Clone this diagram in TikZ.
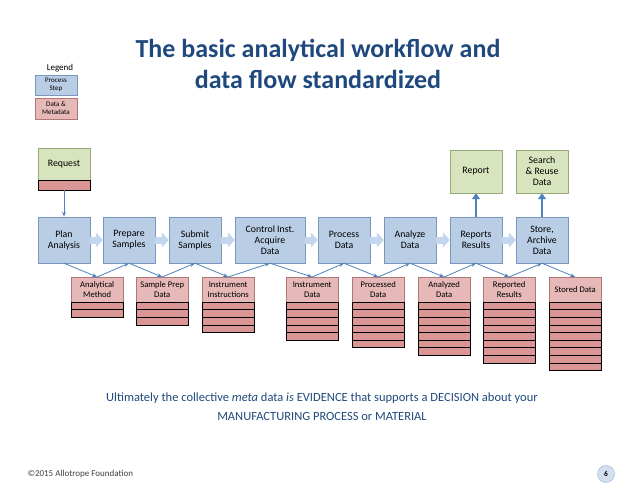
\documentclass[tikz,border=0pt]{standalone}
\usepackage{fontspec}
\setmainfont{Carlito}
\usetikzlibrary{arrows.meta,positioning}
\definecolor{procfill}{RGB}{185,205,229}
\definecolor{procline}{RGB}{120,150,190}
\definecolor{datafill}{RGB}{230,184,183}
\definecolor{rowfill}{RGB}{218,150,148}
\definecolor{reqfill}{RGB}{215,228,189}
\definecolor{reqline}{RGB}{150,170,120}
\definecolor{titleblue}{RGB}{31,73,125}
\definecolor{linkblue}{RGB}{79,129,189}
\definecolor{fatarrow}{RGB}{195,214,238}
\tikzset{
  procbox/.style={draw=procline, fill=procfill, minimum width=52pt, minimum height=46pt,
    align=center, font=\fontsize{9.8}{11}\selectfont, inner sep=1pt},
  outbox/.style={draw=reqline, fill=reqfill, minimum width=52pt, minimum height=43pt,
    align=center, font=\fontsize{9.8}{11}\selectfont, inner sep=1pt},
  datahead/.style={draw=rowfill!80!black, fill=datafill, minimum width=52pt, minimum height=25pt,
    align=center, font=\fontsize{8.6}{9.6}\selectfont, inner sep=1pt, anchor=north west},
  datarow/.style={draw=black, fill=rowfill},
  link/.style={linkblue, thick, -{Stealth[length=5pt]}},
  flow/.style={fatarrow, line width=7pt, -{Triangle[width=15pt,length=7pt]}},
  uparrow/.style={linkblue, line width=2.5pt, -{Triangle[width=8pt,length=6pt]}}
}
% data box: name, left x, label, rows
\newcommand{\databox}[4]{%
  \node[datahead] (#1) at (#2,277) {#3};
  \foreach \r in {1,...,#4}
    \draw[datarow] (#2,{302+(\r-1)*7.6}) rectangle ++(52,7.6);
}
\begin{document}
\begin{tikzpicture}[x=1pt,y=-1pt]
\useasboundingbox (0,0) rectangle (638,493);
% title and legend
\node[font=\fontsize{26}{31}\selectfont\bfseries, text=titleblue, align=center] (title) at (318,64)
  {The basic analytical workflow and\\data flow standardized};
\node[font=\fontsize{9}{10}\selectfont] (legend) at (60,68) {Legend};
\node[procbox, minimum width=42pt, minimum height=20pt, font=\fontsize{7}{8}\selectfont] (legproc) at (56,85) {Process\\Step};
\node[datahead, anchor=center, minimum width=42pt, minimum height=21pt, font=\fontsize{7}{8}\selectfont] (legdata) at (56,108.5) {Data \&\\Metadata};
% process steps
\node[procbox] (plan) at (64,240) {Plan\\Analysis};
\node[procbox] (prep) at (129,240) {Prepare\\Samples};
\node[procbox] (subm) at (195,240) {Submit\\Samples};
\node[procbox, minimum width=70pt] (ctrl) at (270,240) {Control Inst.\\Acquire\\Data};
\node[procbox] (proc) at (344,240) {Process\\Data};
\node[procbox] (anal) at (410,240) {Analyze\\Data};
\node[procbox] (repr) at (476,240) {Reports\\Results};
\node[procbox] (stor) at (542,240) {Store,\\Archive\\Data};
% request and outputs
\node[outbox, minimum height=32pt] (req) at (64,164) {Request};
\draw[datarow, draw=black] (req.south west) rectangle ++(52,10) coordinate (reqend);
\coordinate (reqbot) at (64,190);
\node[outbox] (report) at (476,171.5) {Report};
\node[outbox] (search) at (542,171.5) {Search\\\& Reuse\\Data};
% data
\databox{meth}{71}{Analytical\\Method}{2}
\databox{sprep}{136}{Sample Prep\\Data}{3}
\databox{instr}{202}{Instrument\\Instructions}{4}
\databox{idata}{286}{Instrument\\Data}{5}
\databox{pdata}{352}{Processed\\Data}{6}
\databox{adata}{418}{Analyzed\\Data}{7}
\databox{rres}{483}{Reported\\Results}{8}
\databox{sdata}{549}{Stored Data}{9}
% flow between steps
\foreach \a/\b in {plan/prep,prep/subm,subm/ctrl,ctrl/proc,proc/anal,anal/repr,repr/stor}
  \draw[flow] (\a.east) -- (\b.west);
\draw[link] (reqbot) -- (plan.north);
\draw[uparrow] (repr.north) -- (report.south);
\draw[uparrow] (stor.north) -- (search.south);
% data links
\foreach \p/\d/\n in {plan/meth/prep,prep/sprep/subm,subm/instr/ctrl,ctrl/idata/proc,proc/pdata/anal,anal/adata/repr,repr/rres/stor}{
  \draw[link] (\p.south) -- (\d.north);
  \draw[link] (\d.north) -- (\n.south);
}
\draw[link] (stor.south) -- (sdata.north);
% footer
\node[font=\fontsize{12.5}{19}\selectfont, text=titleblue, align=center] (note) at (322,407)
  {Ultimately the collective \emph{meta} data \emph{is} EVIDENCE that supports a DECISION about your\\MANUFACTURING PROCESS or MATERIAL};
\node[font=\fontsize{9}{10}\selectfont, text=black!75, anchor=west] (copy) at (24,474) {©2015 Allotrope Foundation};
\node[circle, draw=linkblue!60, fill=linkblue!25, minimum size=17pt, inner sep=0pt, font=\fontsize{7.5}{8}\selectfont\bfseries] (logo) at (606,474) {6};
\end{tikzpicture}
\end{document}
